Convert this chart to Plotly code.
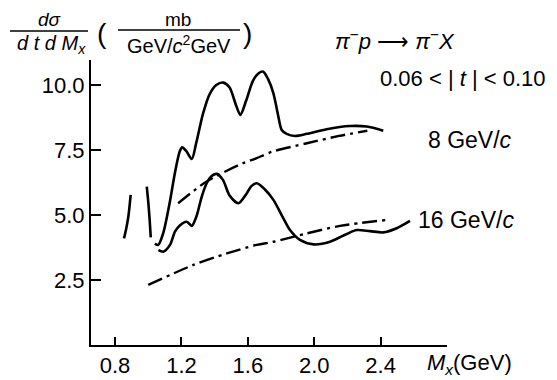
import plotly.graph_objects as go

# ---- data ----
x_8_solid = [1.04, 1.06, 1.09, 1.13, 1.16, 1.19, 1.205, 1.23, 1.262, 1.29, 1.33, 1.37, 1.41, 1.452, 1.49, 1.53, 1.555, 1.59, 1.63, 1.665, 1.693, 1.72, 1.754, 1.784, 1.804, 1.834, 1.884, 1.955, 2.075, 2.216, 2.316, 2.416]
y_8_solid = [3.90, 3.85, 4.30, 5.50, 6.60, 7.45, 7.60, 7.45, 7.15, 7.80, 8.90, 9.65, 10.00, 10.09, 9.90, 9.20, 8.85, 9.40, 10.15, 10.45, 10.51, 10.25, 9.68, 8.78, 8.27, 8.12, 8.04, 8.12, 8.30, 8.42, 8.40, 8.24]

x_16_solid = [1.061, 1.091, 1.131, 1.161, 1.19, 1.232, 1.262, 1.29, 1.322, 1.352, 1.382, 1.413, 1.45, 1.49, 1.543, 1.59, 1.62, 1.654, 1.70, 1.754, 1.814, 1.854, 1.914, 1.995, 2.095, 2.196, 2.256, 2.336, 2.416, 2.497, 2.577]
y_16_solid = [3.65, 3.59, 3.85, 4.36, 4.60, 4.74, 4.58, 4.94, 5.70, 6.22, 6.50, 6.58, 6.35, 5.75, 5.45, 5.80, 6.10, 6.22, 6.00, 5.58, 4.87, 4.42, 4.04, 3.87, 3.97, 4.27, 4.42, 4.38, 4.33, 4.49, 4.77]

x_8_dd = [1.18, 1.35, 1.57, 1.65, 1.75, 1.95, 2.15, 2.32]
y_8_dd = [5.45, 6.28, 6.99, 7.18, 7.44, 7.75, 8.04, 8.24]

x_16_dd = [1.00, 1.272, 1.473, 1.654, 1.754, 1.955, 2.155, 2.437]
y_16_dd = [2.31, 3.08, 3.52, 3.85, 3.97, 4.29, 4.58, 4.81]

x_frag1 = [0.854, 0.868, 0.880, 0.894]
y_frag1 = [4.10, 4.50, 4.93, 5.77]
x_frag2 = [0.991, 1.000, 1.008, 1.015]
y_frag2 = [6.09, 5.50, 4.85, 4.14]

x_ticks = [0.8, 1.2, 1.6, 2.0, 2.4]
x_tick_labels = ["0.8", "1.2", "1.6", "2.0", "2.4"]
y_ticks = [2.5, 5.0, 7.5, 10.0]
y_tick_labels = ["2.5", "5.0", "7.5", "10.0"]

X_RANGE = [0.655, 2.80]
Y_RANGE = [0.0, 10.96]

FONT = "Liberation Sans, Arial, Helvetica, sans-serif"
DASHDOT = "15px,5px,3px,5px"

fig = go.Figure()
solid = dict(color="black", width=2.6, shape="spline", smoothing=0.8)
dd = dict(color="black", width=2.4, dash=DASHDOT, shape="spline", smoothing=0.8)
for xs, ys, ln in [
    (x_8_solid, y_8_solid, solid),
    (x_16_solid, y_16_solid, solid),
    (x_8_dd, y_8_dd, dd),
    (x_16_dd, y_16_dd, dd),
    (x_frag1, y_frag1, solid),
    (x_frag2, y_frag2, solid),
]:
    fig.add_trace(go.Scatter(x=xs, y=ys, mode="lines", line=ln,
                             showlegend=False, hoverinfo="skip"))

# page offset of the plot div (default body margin)
OFF = 8
# plot area in page pixels
PL, PR, PT, PB = 91, 447, 60, 345
W, H = 557 - OFF, 380 - OFF
L, R, T, B = PL - OFF, PR - OFF, PT - OFF, PB - OFF


def px(xp):
    return (xp - PL) / (PR - PL)


def py(yp):
    return (PB - yp) / (PB - PT)


def ann(text, x, y, size, xanchor="center", yanchor="middle"):
    fig.add_annotation(text=text, x=px(x), y=py(y), xref="paper", yref="paper",
                       showarrow=False, xanchor=xanchor, yanchor=yanchor,
                       borderpad=0,
                       font=dict(size=size, color="black", family=FONT))


# header: dσ / (dt dM_x)
ann("<i>dσ</i>", 50, OFF, 19, yanchor="top")
ann("<i>d t d M<sub>x</sub></i>", 51, 44, 20)
fig.add_shape(type="line", xref="paper", yref="paper",
              x0=px(10), x1=px(88), y0=py(31), y1=py(31),
              line=dict(color="black", width=1.5))
# ( mb / GeV/c^2 GeV )
ann("(", 102, 34, 28)
ann(")", 247, 34, 28)
ann("mb", 178, OFF, 19, yanchor="top")
ann("GeV/<i>c</i><sup>2</sup>GeV", 179, 44, 20)
fig.add_shape(type="line", xref="paper", yref="paper",
              x0=px(118), x1=px(240), y0=py(30), y1=py(30),
              line=dict(color="black", width=1.5))

ann("<i>π</i><sup>−</sup><i>p</i> ⟶ <i>π</i><sup>−</sup><i>X</i>", 395, 40, 22)
ann("0.06 < | <i>t</i> | < 0.10", 463, 78, 22)
ann("8 GeV/<i>c</i>", 470, 140, 23)
ann("16 GeV/<i>c</i>", 466, 220, 23)
ann("<i>M<sub>x</sub></i>(GeV)", 469, 364, 22)

axis_common = dict(showgrid=False, zeroline=False, showline=True, linecolor="black",
                   linewidth=2, ticks="inside", tickcolor="black", tickwidth=2,
                   tickfont=dict(size=22, color="black", family=FONT), mirror=False)

fig.update_layout(
    width=W, height=H,
    margin=dict(l=L, r=W - R, t=T, b=H - B, autoexpand=False),
    paper_bgcolor="white", plot_bgcolor="white",
    xaxis=dict(range=X_RANGE, tickvals=x_ticks, ticktext=x_tick_labels, ticklen=8,
               **axis_common),
    yaxis=dict(range=Y_RANGE, tickvals=y_ticks, ticktext=y_tick_labels, ticklen=10,
               **axis_common),
)

fig.write_html("out.html")
